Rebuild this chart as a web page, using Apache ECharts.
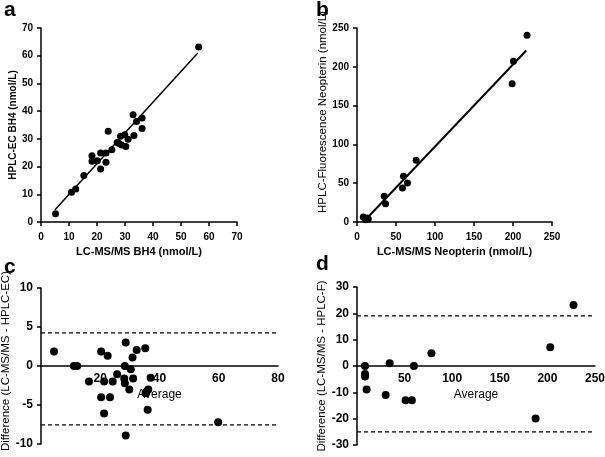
<!DOCTYPE html>
<html>
<head>
<meta charset="utf-8">
<script src="https://cdn.jsdelivr.net/npm/echarts@6/dist/echarts.min.js"></script>
<style>html,body{margin:0;padding:0;background:#fff}#c{width:605px;height:457px}</style>
</head>
<body>
<div id="c"></div>
<script>
// Panel a: LC-MS/MS BH4 vs HPLC-EC BH4
const aPoints = [[5.2,3.0],[10.9,10.7],[12.4,11.9],[15.3,16.8],[18.2,23.9],[18.2,21.9],[20.1,22.1],[21.3,19.1],[21.3,24.9],[23.2,24.9],[23.2,21.6],[24.0,32.7],[25.3,26.1],[27.2,28.7],[27.9,28.3],[28.4,30.9],[28.8,27.8],[29.9,31.5],[30.3,27.2],[31.1,29.9],[32.9,38.7],[33.2,31.2],[34.1,36.3],[36.1,37.5],[36.1,33.7],[56.3,63.1]];
const aFit = [[5,4.4],[56,61]];
// Panel b: LC-MS/MS Neopterin vs HPLC-Fluorescence Neopterin
const bPoints = [[8,6.5],[11,3],[12.5,5],[14.5,4],[34.9,33.1],[36.6,23.6],[59.6,58.8],[58.3,43.8],[64.7,50.3],[75.8,79.5],[198.9,178.3],[200.6,207],[218,240.5]];
const bFit = [[10,2],[217,221]];
// Panel c: Bland-Altman BH4
const cPoints = [[4.4,1.85],[11.1,0],[12.2,0],[16.2,-2.0],[20.3,1.85],[22.5,1.33],[20.3,-4.0],[23.3,-4.0],[21.3,-6.1],[21.3,-2.0],[24.2,-2.0],[25.7,-1.07],[28.3,0],[28.6,3.0],[28.1,-1.6],[28.3,-2.2],[29.8,-3.0],[30.3,-0.43],[30.9,1.1],[31.1,-1.6],[32.3,2.06],[35.2,2.27],[35.6,-3.3],[36.2,-3.0],[35.3,-3.5],[37.0,-1.5],[36.0,-5.6],[28.6,-8.9],[59.8,-7.2]];
const cLimits = [4.25, -7.55];
// Panel d: Bland-Altman Neopterin
const dPoints = [[8.4,0],[8.4,-3.0],[8.4,-4.0],[10.1,-8.9],[30.1,-11],[34.3,1],[59.8,0],[51,-13],[57.6,-13],[78.2,4.8],[187.6,-19.9],[203,7.1],[227.4,23.2]];
const dLimits = [19, -25];

const FONT = 'Liberation Sans, Arial, sans-serif';
function axis(opts){
  return Object.assign({
    type:'value',
    splitLine:{show:false},
    axisLine:{show:true,onZero:false,lineStyle:{color:'#000',width:1.5}},
    axisTick:{show:true,inside:false,length:4,lineStyle:{color:'#000',width:1.5}},
    axisLabel:{color:'#000',fontFamily:FONT,fontWeight:'bold',fontSize:10,margin:8},
    nameLocation:'middle',
    nameTextStyle:{color:'#000',fontFamily:FONT,fontWeight:'bold',fontSize:11}
  }, opts);
}
const chart = echarts.init(document.getElementById('c'),null,{renderer:'canvas'});
const dot = {color:'#000',opacity:1};
chart.setOption({
  animation:false,
  backgroundColor:'#fff',
  grid:[
    {left:41,top:28,width:196,height:194,outerBoundsMode:'none',containLabel:false},
    {left:357,top:28,width:195,height:194,outerBoundsMode:'none',containLabel:false},
    {left:41,top:288,width:237,height:156,outerBoundsMode:'none',containLabel:false},
    {left:357,top:287,width:238,height:158,outerBoundsMode:'none',containLabel:false}
  ],
  xAxis:[
    axis({gridIndex:0,min:0,max:70,interval:10,name:'LC-MS/MS BH4 (nmol/L)',nameGap:24,axisLabel:{color:'#000',fontFamily:FONT,fontWeight:'bold',fontSize:10,margin:10}}),
    axis({gridIndex:1,min:0,max:250,interval:50,name:'LC-MS/MS Neopterin (nmol/L)',nameGap:24,axisLabel:{color:'#000',fontFamily:FONT,fontWeight:'bold',fontSize:10,margin:10}}),
    axis({gridIndex:2,min:0,max:80,interval:20,name:'Average',nameGap:23,offset:-78,axisTick:{show:false},
      axisLabel:{color:'#000',fontFamily:FONT,fontWeight:'bold',fontSize:12,margin:7,showMinLabel:false},
      nameTextStyle:{color:'#000',fontFamily:FONT,fontWeight:'normal',fontSize:12}}),
    axis({gridIndex:3,min:0,max:250,interval:50,name:'Average',nameGap:23,offset:-79,axisTick:{show:false},
      axisLabel:{color:'#000',fontFamily:FONT,fontWeight:'bold',fontSize:12,margin:7,showMinLabel:false},
      nameTextStyle:{color:'#000',fontFamily:FONT,fontWeight:'normal',fontSize:12}})
  ],
  yAxis:[
    axis({gridIndex:0,min:0,max:70,interval:10,name:'HPLC-EC BH4 (nmol/L)',nameGap:21,
      nameTextStyle:{color:'#000',fontFamily:FONT,fontWeight:'bold',fontSize:10}}),
    axis({gridIndex:1,min:0,max:250,interval:50,name:'HPLC-Fluorescence Neopterin (nmol/L)',nameGap:21,
      nameTextStyle:{color:'#000',fontFamily:FONT,fontWeight:'normal',fontSize:11.5,padding:[0,0,0,26]}}),
    axis({gridIndex:2,min:-10,max:10,interval:5,name:'Difference (LC-MS/MS - HPLC-EC)',nameGap:21,
      axisLabel:{color:'#000',fontFamily:FONT,fontWeight:'bold',fontSize:12,margin:8},
      nameTextStyle:{color:'#000',fontFamily:FONT,fontWeight:'normal',fontSize:11.5,padding:[0,0,0,10]}}),
    axis({gridIndex:3,min:-30,max:30,interval:10,name:'Difference (LC-MS/MS - HPLC-F)',nameGap:26,
      axisLabel:{color:'#000',fontFamily:FONT,fontWeight:'bold',fontSize:12,margin:8},
      nameTextStyle:{color:'#000',fontFamily:FONT,fontWeight:'normal',fontSize:11.5}})
  ],
  series:[
    {type:'line',xAxisIndex:0,yAxisIndex:0,data:aFit,showSymbol:false,lineStyle:{color:'#000',width:1.5},z:1},
    {type:'scatter',xAxisIndex:0,yAxisIndex:0,data:aPoints,symbolSize:7,itemStyle:dot},
    {type:'line',xAxisIndex:1,yAxisIndex:1,data:bFit,showSymbol:false,lineStyle:{color:'#000',width:2},z:1},
    {type:'scatter',xAxisIndex:1,yAxisIndex:1,data:bPoints,symbolSize:7,itemStyle:dot},
    {type:'line',xAxisIndex:2,yAxisIndex:2,data:[[0,cLimits[0]],[80,cLimits[0]]],showSymbol:false,lineStyle:{color:'#000',width:1.2,type:[4,3]},z:1},
    {type:'line',xAxisIndex:2,yAxisIndex:2,data:[[0,cLimits[1]],[80,cLimits[1]]],showSymbol:false,lineStyle:{color:'#000',width:1.2,type:[4,3]},z:1},
    {type:'scatter',xAxisIndex:2,yAxisIndex:2,data:cPoints,symbolSize:8,itemStyle:dot},
    {type:'line',xAxisIndex:3,yAxisIndex:3,data:[[0,dLimits[0]],[250,dLimits[0]]],showSymbol:false,lineStyle:{color:'#000',width:1.2,type:[4,3]},z:1},
    {type:'line',xAxisIndex:3,yAxisIndex:3,data:[[0,dLimits[1]],[250,dLimits[1]]],showSymbol:false,lineStyle:{color:'#000',width:1.2,type:[4,3]},z:1},
    {type:'scatter',xAxisIndex:3,yAxisIndex:3,data:dPoints,symbolSize:8,itemStyle:dot}
  ],
  graphic:[
    {type:'text',left:4,top:0,style:{text:'a',fontFamily:FONT,fontWeight:'bold',fontSize:21,fill:'#000'}},
    {type:'text',left:316,top:0,style:{text:'b',fontFamily:FONT,fontWeight:'bold',fontSize:21,fill:'#000'}},
    {type:'text',left:4,top:257,style:{text:'c',fontFamily:FONT,fontWeight:'bold',fontSize:21,fill:'#000'}},
    {type:'text',left:316,top:254,style:{text:'d',fontFamily:FONT,fontWeight:'bold',fontSize:21,fill:'#000'}}
  ]
});
</script>
</body>
</html>
